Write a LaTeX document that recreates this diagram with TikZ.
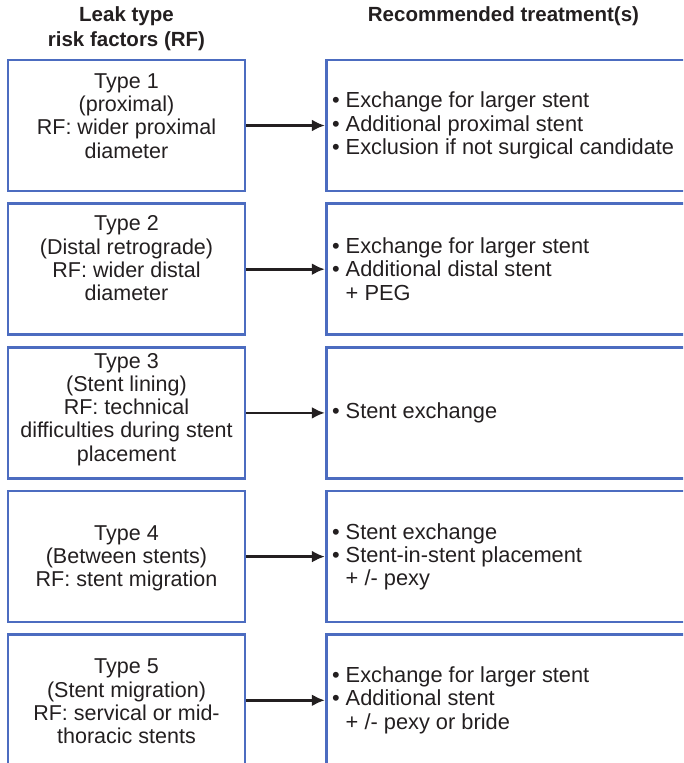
\documentclass[tikz,border=0pt]{standalone}
\usepackage{fontspec}
\setmainfont{Liberation Sans}
\usepackage{tikz}
\usepackage{xcolor}
\usetikzlibrary{arrows.meta,positioning}

\definecolor{boxblue}{RGB}{76,108,192}
\definecolor{ink}{RGB}{35,31,32}

\begin{document}
\begin{tikzpicture}[
  x=1pt, y=1pt,
  node distance=10pt and 78.5pt,
  leakbox/.style={draw=boxblue, line width=2.7pt, minimum width=237pt, minimum height=131pt, inner sep=0pt},
  treatbox/.style={draw=boxblue, line width=2.7pt, minimum width=380pt, minimum height=131pt, inner sep=0pt},
  leaktext/.style={align=center, text=ink, font=\fontsize{21.5}{23.2}\selectfont, inner sep=0pt},
  treattext/.style={align=left, text=ink, font=\fontsize{21.8}{23.2}\selectfont, inner sep=0pt, anchor=west},
  head/.style={align=center, text=ink, font=\fontsize{20.5}{24.5}\selectfont\bfseries, inner sep=0pt},
  arrow/.style={-{Latex[length=13pt,width=12pt]}, line width=2.8pt, ink}
]
\useasboundingbox (0,0) rectangle (683,-763);
\clip (0,0) rectangle (683,-763);

\node[leakbox] (leak1) at (126.5,-125.5) {};
\node[leakbox, below=of leak1] (leak2) {};
\node[leakbox, below=of leak2] (leak3) {};
\node[leakbox, below=of leak3] (leak4) {};
\node[leakbox, below=of leak4] (leak5) {};

\node[treatbox, right=of leak1, anchor=west] (treat1) {};
\node[treatbox, right=of leak2, anchor=west] (treat2) {};
\node[treatbox, right=of leak3, anchor=west] (treat3) {};
\node[treatbox, right=of leak4, anchor=west] (treat4) {};
\node[treatbox, right=of leak5, anchor=west] (treat5) {};

\node[head] (headleak) at (126.5,-28.5) {Leak type\\risk factors (RF)};
\node[head] (headtreat) at (503.5,-16.5) {Recommended treatment(s)};

\node[leaktext, yshift=9.5pt] (leaktxt1) at (leak1) {Type 1\\(proximal)\\RF: wider proximal\\diameter};
\node[leaktext, yshift=11pt] (leaktxt2) at (leak2) {Type 2\\(Distal retrograde)\\RF: wider distal\\diameter};
\node[leaktext, yshift=3.5pt] (leaktxt3) at (leak3) {Type 3\\(Stent lining)\\RF: technical\\difficulties during stent\\placement};
\node[leaktext, yshift=-1.5pt] (leaktxt4) at (leak4) {Type 4\\(Between stents)\\RF: stent migration};
\node[leaktext, yshift=-1pt] (leaktxt5) at (leak5) {Type 5\\(Stent migration)\\RF: servical or mid-\\thoracic stents};

\node[treattext, xshift=7pt] (treattxt1) at (treat1.west) {\textbullet\ Exchange for larger stent\\\textbullet\ Additional proximal stent\\\textbullet\ Exclusion if not surgical candidate};
\node[treattext, xshift=7pt] (treattxt2) at (treat2.west) {\textbullet\ Exchange for larger stent\\\textbullet\ Additional distal stent\\\phantom{\textbullet}\ + PEG};
\node[treattext, xshift=7pt] (treattxt3) at (treat3.west) {\textbullet\ Stent exchange};
\node[treattext, xshift=7pt] (treattxt4) at (treat4.west) {\textbullet\ Stent exchange\\\textbullet\ Stent-in-stent placement\\\phantom{\textbullet}\ + /- pexy};
\node[treattext, xshift=7pt] (treattxt5) at (treat5.west) {\textbullet\ Exchange for larger stent\\\textbullet\ Additional stent\\\phantom{\textbullet}\ + /- pexy or bride};

\draw[arrow] (leak1) -- (treat1);
\draw[arrow] (leak2) -- (treat2);
\draw[arrow] (leak3) -- (treat3);
\draw[arrow] (leak4) -- (treat4);
\draw[arrow] (leak5) -- (treat5);
\end{tikzpicture}
\end{document}
